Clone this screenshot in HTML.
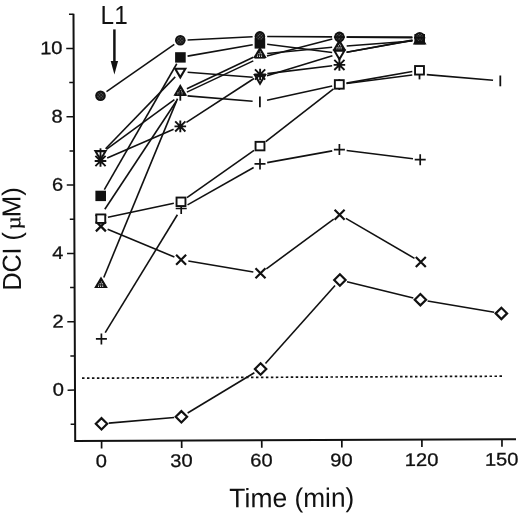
<!DOCTYPE html><html><head><meta charset="utf-8"><title>chart</title><style>html,body{margin:0;padding:0;background:#fff;}body{width:520px;height:517px;overflow:hidden;}svg{display:block;filter:grayscale(1);}text{font-family:"Liberation Sans",sans-serif;fill:#111;}.b{stroke:#111;stroke-width:0.3px;}</style></head><body>
<svg width="520" height="517" viewBox="0 0 520 517">
<defs><pattern id="st" width="2.2" height="2.2" patternUnits="userSpaceOnUse"><rect width="2.2" height="2.2" fill="#111"/><rect x="0.5" y="0.5" width="1.15" height="1.15" fill="#c8c8c8"/></pattern><pattern id="sc" width="2.2" height="2.2" patternUnits="userSpaceOnUse" patternTransform="rotate(45)"><rect width="2.2" height="2.2" fill="#111"/><rect x="0.55" y="0.55" width="1.1" height="1.1" fill="#808080"/></pattern></defs>
<rect width="520" height="517" fill="#fff"/>
<g transform="rotate(-0.23 75.2 440.9)">
<g stroke="#111" fill="none">
<path d="M75.2 13.8V440.9H516" stroke-width="2" stroke-linejoin="miter"/>
<path d="M70.7 424.27H75.2" stroke-width="1.5"/>
<path d="M67.8 390.10H75.2" stroke-width="1.5"/>
<path d="M70.7 355.93H75.2" stroke-width="1.5"/>
<path d="M67.8 321.76H75.2" stroke-width="1.5"/>
<path d="M70.7 287.59H75.2" stroke-width="1.5"/>
<path d="M67.8 253.42H75.2" stroke-width="1.5"/>
<path d="M70.7 219.25H75.2" stroke-width="1.5"/>
<path d="M67.8 185.08H75.2" stroke-width="1.5"/>
<path d="M70.7 150.91H75.2" stroke-width="1.5"/>
<path d="M67.8 116.74H75.2" stroke-width="1.5"/>
<path d="M70.7 82.57H75.2" stroke-width="1.5"/>
<path d="M67.8 48.40H75.2" stroke-width="1.5"/>
<path d="M70.7 14.23H75.2" stroke-width="1.5"/>
<path d="M101.60 440.9V448.5" stroke-width="1.7"/>
<path d="M181.67 440.9V448.5" stroke-width="1.7"/>
<path d="M261.74 440.9V448.5" stroke-width="1.7"/>
<path d="M341.81 440.9V448.5" stroke-width="1.7"/>
<path d="M421.88 440.9V448.5" stroke-width="1.7"/>
<path d="M501.95 440.9V448.5" stroke-width="1.7"/>
</g>
<text class="b" transform="translate(64.10 395.70) scale(1.1 1)" font-size="18.3" text-anchor="end">0</text>
<text class="b" transform="translate(64.10 327.36) scale(1.1 1)" font-size="18.3" text-anchor="end">2</text>
<text class="b" transform="translate(64.10 259.02) scale(1.1 1)" font-size="18.3" text-anchor="end">4</text>
<text class="b" transform="translate(64.10 190.68) scale(1.1 1)" font-size="18.3" text-anchor="end">6</text>
<text class="b" transform="translate(64.10 122.34) scale(1.1 1)" font-size="18.3" text-anchor="end">8</text>
<text class="b" transform="translate(64.10 54.00) scale(1.1 1)" font-size="18.3" text-anchor="end">10</text>
<text class="b" transform="translate(101.20 467.30) scale(1.1 1)" font-size="18.3" text-anchor="middle">0</text>
<text class="b" transform="translate(181.27 467.30) scale(1.1 1)" font-size="18.3" text-anchor="middle">30</text>
<text class="b" transform="translate(261.34 467.30) scale(1.1 1)" font-size="18.3" text-anchor="middle">60</text>
<text class="b" transform="translate(341.41 467.30) scale(1.1 1)" font-size="18.3" text-anchor="middle">90</text>
<text class="b" transform="translate(421.48 467.30) scale(1.1 1)" font-size="18.3" text-anchor="middle">120</text>
<text class="b" transform="translate(501.55 467.30) scale(1.1 1)" font-size="18.3" text-anchor="middle">150</text>
<text transform="translate(229.02 507.90) scale(1.0909 1.1)" font-size="24.3" text-anchor="start">Time</text>
<text transform="translate(294.17 507.90) scale(1.0838 1.1)" font-size="24.3" text-anchor="start">(min)</text>
<text transform="translate(21.50 290.40) rotate(-90) scale(1.0 1.04)" font-size="25.1" text-anchor="start">DCI (</text>
<text transform="translate(21.50 217.10) rotate(-90) scale(1.03 1.04)" font-size="25.1" text-anchor="start">M)</text>
<text transform="translate(21.18 228.93) rotate(-90) scale(1.137 1.042)" font-size="20" font-family="Liberation Serif" style="font-family:'Liberation Serif',serif;stroke:#111;stroke-width:0.3px">µ</text>
</g>
<text transform="translate(100.60 24.00) scale(0.93 1)" font-size="26.2" text-anchor="start">L1</text>
<path d="M114.4 29.4V63" stroke="#111" stroke-width="2.5" fill="none"/>
<path d="M110.7 61.0L114.4 74.4L118.1 61.0Z" fill="#111"/>
<path d="M82 378.2L502.5 376.2" stroke="#111" stroke-width="1.7" stroke-dasharray="2.5 2.47" fill="none"/>
<g stroke="#111" stroke-width="1.6" fill="none" stroke-linecap="butt">
<path d="M106.50 91.54L174.30 44.46"/>
<path d="M187.59 39.94L252.61 36.76"/>
<path d="M267.20 36.45L332.10 36.85"/>
<path d="M346.70 36.93L412.40 37.17"/>
<path d="M104.34 189.57L176.76 63.73"/>
<path d="M187.59 56.13L252.71 44.67"/>
<path d="M267.14 44.32L332.16 52.58"/>
<path d="M346.59 52.22L412.51 40.48"/>
<path d="M105.58 148.76L175.22 76.84"/>
<path d="M187.58 72.18L252.72 77.32"/>
<path d="M266.98 75.76L332.42 55.64"/>
<path d="M346.58 52.19L412.52 40.11"/>
<path d="M103.78 277.45L177.52 98.65"/>
<path d="M186.90 88.78L253.30 57.32"/>
<path d="M267.17 53.50L332.13 47.20"/>
<path d="M346.68 45.96L412.42 41.04"/>
<path d="M104.83 209.21L176.27 101.29"/>
<path d="M186.91 92.10L253.29 60.90"/>
<path d="M266.96 55.96L332.34 38.94"/>
<path d="M346.70 37.16L412.40 37.74"/>
<path d="M107.20 158.10L173.60 129.30"/>
<path d="M186.42 122.42L253.98 78.48"/>
<path d="M267.35 73.62L332.15 65.78"/>
<path d="M106.39 149.39L174.41 99.61"/>
<path d="M187.58 95.90L252.62 101.30"/>
<path d="M267.03 100.34L332.17 86.06"/>
<path d="M346.54 83.55L412.26 74.95"/>
<path d="M426.77 74.62L493.03 80.28"/>
<path d="M107.94 217.19L173.86 203.31"/>
<path d="M186.97 197.59L254.03 150.31"/>
<path d="M265.76 141.62L333.54 88.88"/>
<path d="M346.49 83.14L412.31 71.56"/>
<path d="M105.21 332.67L177.39 214.73"/>
<path d="M187.55 204.90L253.65 167.50"/>
<path d="M267.18 162.61L332.22 150.89"/>
<path d="M346.64 150.51L412.96 158.79"/>
<path d="M107.64 229.21L174.36 256.99"/>
<path d="M188.30 261.01L253.30 271.99"/>
<path d="M266.37 268.86L333.73 219.04"/>
<path d="M345.91 218.37L414.49 258.33"/>
<path d="M108.77 423.16L174.13 417.44"/>
<path d="M187.65 413.03L254.35 372.77"/>
<path d="M265.46 363.55L335.04 285.45"/>
<path d="M346.99 281.74L413.31 297.96"/>
<path d="M427.60 300.92L494.20 312.18"/>
</g>
<path d="M95.80 423.80L101.50 418.10L107.20 423.80L101.50 429.50Z" fill="#fff" stroke="#111" stroke-width="2.2" stroke-linejoin="miter"/>
<path d="M175.70 416.80L181.40 411.10L187.10 416.80L181.40 422.50Z" fill="#fff" stroke="#111" stroke-width="2.2" stroke-linejoin="miter"/>
<path d="M254.90 369.00L260.60 363.30L266.30 369.00L260.60 374.70Z" fill="#fff" stroke="#111" stroke-width="2.2" stroke-linejoin="miter"/>
<path d="M334.20 280.00L339.90 274.30L345.60 280.00L339.90 285.70Z" fill="#fff" stroke="#111" stroke-width="2.2" stroke-linejoin="miter"/>
<path d="M414.70 299.70L420.40 294.00L426.10 299.70L420.40 305.40Z" fill="#fff" stroke="#111" stroke-width="2.2" stroke-linejoin="miter"/>
<path d="M495.70 313.40L501.40 307.70L507.10 313.40L501.40 319.10Z" fill="#fff" stroke="#111" stroke-width="2.2" stroke-linejoin="miter"/>
<path d="M95.90 221.40L105.90 231.40M95.90 231.40L105.90 221.40" stroke="#111" stroke-width="2.2" fill="none"/>
<path d="M176.10 254.80L186.10 264.80M176.10 264.80L186.10 254.80" stroke="#111" stroke-width="2.2" fill="none"/>
<path d="M255.50 268.20L265.50 278.20M255.50 278.20L265.50 268.20" stroke="#111" stroke-width="2.2" fill="none"/>
<path d="M334.60 209.70L344.60 219.70M334.60 219.70L344.60 209.70" stroke="#111" stroke-width="2.2" fill="none"/>
<path d="M415.80 257.00L425.80 267.00M415.80 267.00L425.80 257.00" stroke="#111" stroke-width="2.2" fill="none"/>
<path d="M95.90 338.90H106.90M101.40 333.40V344.40" stroke="#111" stroke-width="1.7" fill="none"/>
<path d="M175.70 208.50H186.70M181.20 203.00V214.00" stroke="#111" stroke-width="1.7" fill="none"/>
<path d="M254.50 163.90H265.50M260.00 158.40V169.40" stroke="#111" stroke-width="1.7" fill="none"/>
<path d="M333.90 149.60H344.90M339.40 144.10V155.10" stroke="#111" stroke-width="1.7" fill="none"/>
<path d="M414.70 159.70H425.70M420.20 154.20V165.20" stroke="#111" stroke-width="1.7" fill="none"/>
<path d="M93.65 150.10L107.35 150.10L100.50 161.80Z" fill="#111"/><path d="M97.23 152.15L103.77 152.15L100.50 157.74Z" fill="#fff"/>
<path d="M173.45 67.70L187.15 67.70L180.30 79.40Z" fill="#111"/><path d="M177.03 69.75L183.57 69.75L180.30 75.34Z" fill="#fff"/>
<path d="M253.15 74.00L266.85 74.00L260.00 85.70Z" fill="#111"/><path d="M256.73 76.05L263.27 76.05L260.00 81.64Z" fill="#fff"/>
<path d="M332.55 49.60L346.25 49.60L339.40 61.30Z" fill="#111"/><path d="M336.13 51.65L342.67 51.65L339.40 57.24Z" fill="#fff"/>
<path d="M94.70 161.00H106.30M100.50 155.20V166.80M95.40 155.90L105.60 166.10M95.40 166.10L105.60 155.90" stroke="#111" stroke-width="1.9" fill="none"/>
<path d="M174.50 126.40H186.10M180.30 120.60V132.20M175.20 121.30L185.40 131.50M175.20 131.50L185.40 121.30" stroke="#111" stroke-width="1.9" fill="none"/>
<path d="M254.30 74.50H265.90M260.10 68.70V80.30M255.00 69.40L265.20 79.60M255.00 79.60L265.20 69.40" stroke="#111" stroke-width="1.9" fill="none"/>
<path d="M333.60 64.90H345.20M339.40 59.10V70.70M334.30 59.80L344.50 70.00M334.30 70.00L344.50 59.80" stroke="#111" stroke-width="1.9" fill="none"/>
<path d="M94.15 288.10L107.85 288.10L101.00 276.40Z" fill="#111"/><path d="M101.00 284.17L101.00 284.17L101.00 284.17Z" fill="#111"/><rect x="100.90" y="281.50" width="1.0" height="1.0" fill="#d4d4d4"/><rect x="99.60" y="283.00" width="1.0" height="1.0" fill="#d4d4d4"/><rect x="101.70" y="283.00" width="1.0" height="1.0" fill="#d4d4d4"/><rect x="98.20" y="284.60" width="1.0" height="1.0" fill="#d4d4d4"/><rect x="100.20" y="284.60" width="1.0" height="1.0" fill="#d4d4d4"/><rect x="102.20" y="284.60" width="1.0" height="1.0" fill="#d4d4d4"/><rect x="98.00" y="286.00" width="1.0" height="1.0" fill="#d4d4d4"/><rect x="100.10" y="286.00" width="1.0" height="1.0" fill="#d4d4d4"/><rect x="102.20" y="286.00" width="1.0" height="1.0" fill="#d4d4d4"/>
<path d="M173.45 95.80L187.15 95.80L180.30 84.10Z" fill="#111"/><path d="M180.30 91.87L180.30 91.87L180.30 91.87Z" fill="#111"/><rect x="180.20" y="89.20" width="1.0" height="1.0" fill="#d4d4d4"/><rect x="178.90" y="90.70" width="1.0" height="1.0" fill="#d4d4d4"/><rect x="181.00" y="90.70" width="1.0" height="1.0" fill="#d4d4d4"/><rect x="177.50" y="92.30" width="1.0" height="1.0" fill="#d4d4d4"/><rect x="179.50" y="92.30" width="1.0" height="1.0" fill="#d4d4d4"/><rect x="181.50" y="92.30" width="1.0" height="1.0" fill="#d4d4d4"/><rect x="177.30" y="93.70" width="1.0" height="1.0" fill="#d4d4d4"/><rect x="179.40" y="93.70" width="1.0" height="1.0" fill="#d4d4d4"/><rect x="181.50" y="93.70" width="1.0" height="1.0" fill="#d4d4d4"/>
<path d="M253.05 58.10L266.75 58.10L259.90 46.40Z" fill="#111"/><path d="M259.90 54.17L259.90 54.17L259.90 54.17Z" fill="#111"/><rect x="259.80" y="51.50" width="1.0" height="1.0" fill="#d4d4d4"/><rect x="258.50" y="53.00" width="1.0" height="1.0" fill="#d4d4d4"/><rect x="260.60" y="53.00" width="1.0" height="1.0" fill="#d4d4d4"/><rect x="257.10" y="54.60" width="1.0" height="1.0" fill="#d4d4d4"/><rect x="259.10" y="54.60" width="1.0" height="1.0" fill="#d4d4d4"/><rect x="261.10" y="54.60" width="1.0" height="1.0" fill="#d4d4d4"/><rect x="256.90" y="56.00" width="1.0" height="1.0" fill="#d4d4d4"/><rect x="259.00" y="56.00" width="1.0" height="1.0" fill="#d4d4d4"/><rect x="261.10" y="56.00" width="1.0" height="1.0" fill="#d4d4d4"/>
<path d="M332.55 50.40L346.25 50.40L339.40 38.70Z" fill="#111"/><path d="M339.40 46.47L339.40 46.47L339.40 46.47Z" fill="#111"/><rect x="339.30" y="43.80" width="1.0" height="1.0" fill="#d4d4d4"/><rect x="338.00" y="45.30" width="1.0" height="1.0" fill="#d4d4d4"/><rect x="340.10" y="45.30" width="1.0" height="1.0" fill="#d4d4d4"/><rect x="336.60" y="46.90" width="1.0" height="1.0" fill="#d4d4d4"/><rect x="338.60" y="46.90" width="1.0" height="1.0" fill="#d4d4d4"/><rect x="340.60" y="46.90" width="1.0" height="1.0" fill="#d4d4d4"/><rect x="336.40" y="48.30" width="1.0" height="1.0" fill="#d4d4d4"/><rect x="338.50" y="48.30" width="1.0" height="1.0" fill="#d4d4d4"/><rect x="340.60" y="48.30" width="1.0" height="1.0" fill="#d4d4d4"/>
<path d="M412.85 44.40L426.55 44.40L419.70 32.70Z" fill="#111"/><path d="M419.70 40.47L419.70 40.47L419.70 40.47Z" fill="#111"/><rect x="419.60" y="37.80" width="1.0" height="1.0" fill="#d4d4d4"/><rect x="418.30" y="39.30" width="1.0" height="1.0" fill="#d4d4d4"/><rect x="420.40" y="39.30" width="1.0" height="1.0" fill="#d4d4d4"/><rect x="416.90" y="40.90" width="1.0" height="1.0" fill="#d4d4d4"/><rect x="418.90" y="40.90" width="1.0" height="1.0" fill="#d4d4d4"/><rect x="420.90" y="40.90" width="1.0" height="1.0" fill="#d4d4d4"/><rect x="416.70" y="42.30" width="1.0" height="1.0" fill="#d4d4d4"/><rect x="418.80" y="42.30" width="1.0" height="1.0" fill="#d4d4d4"/><rect x="420.90" y="42.30" width="1.0" height="1.0" fill="#d4d4d4"/>
<rect x="95.40" y="190.70" width="10.6" height="10.4" fill="#111"/>
<rect x="175.10" y="52.20" width="10.6" height="10.4" fill="#111"/>
<rect x="254.60" y="38.20" width="10.6" height="10.4" fill="#111"/>
<rect x="414.40" y="34.00" width="10.6" height="10.4" fill="#111"/>
<circle cx="100.50" cy="95.70" r="5.3" fill="#111"/><circle cx="100.50" cy="95.70" r="3.5" fill="url(#sc)"/>
<circle cx="180.30" cy="40.30" r="5.3" fill="#111"/><circle cx="180.30" cy="40.30" r="3.5" fill="url(#sc)"/>
<circle cx="259.90" cy="36.40" r="5.3" fill="#111"/><circle cx="259.90" cy="36.40" r="3.5" fill="url(#sc)"/>
<circle cx="339.40" cy="36.90" r="5.3" fill="#111"/><circle cx="339.40" cy="36.90" r="3.5" fill="url(#sc)"/>
<circle cx="419.70" cy="37.20" r="5.3" fill="#111"/><circle cx="419.70" cy="37.20" r="3.5" fill="url(#sc)"/>
<path d="M95.30 215.30H106.30" stroke="#111" stroke-width="1.6" fill="none"/>
<path d="M174.80 95.20H185.80" stroke="#111" stroke-width="1.6" fill="none"/>
<path d="M254.40 57.80H265.40" stroke="#111" stroke-width="1.6" fill="none"/>
<path d="M333.90 37.10H344.90" stroke="#111" stroke-width="1.6" fill="none"/>
<path d="M414.20 37.80H425.20" stroke="#111" stroke-width="1.6" fill="none"/>
<path d="M100.50 148.30V159.10" stroke="#111" stroke-width="1.8" fill="none"/>
<path d="M180.30 89.90V100.70" stroke="#111" stroke-width="1.8" fill="none"/>
<path d="M259.90 96.50V107.30" stroke="#111" stroke-width="1.8" fill="none"/>
<path d="M339.30 79.10V89.90" stroke="#111" stroke-width="1.8" fill="none"/>
<path d="M419.50 68.60V79.40" stroke="#111" stroke-width="1.8" fill="none"/>
<path d="M500.30 75.50V86.30" stroke="#111" stroke-width="1.8" fill="none"/>
<rect x="96.35" y="214.45" width="8.9" height="8.5" fill="#fff" stroke="#111" stroke-width="1.9"/>
<rect x="176.55" y="197.55" width="8.9" height="8.5" fill="#fff" stroke="#111" stroke-width="1.9"/>
<rect x="255.55" y="141.85" width="8.9" height="8.5" fill="#fff" stroke="#111" stroke-width="1.9"/>
<rect x="334.85" y="80.15" width="8.9" height="8.5" fill="#fff" stroke="#111" stroke-width="1.9"/>
<rect x="415.05" y="66.05" width="8.9" height="8.5" fill="#fff" stroke="#111" stroke-width="1.9"/>
</svg></body></html>
